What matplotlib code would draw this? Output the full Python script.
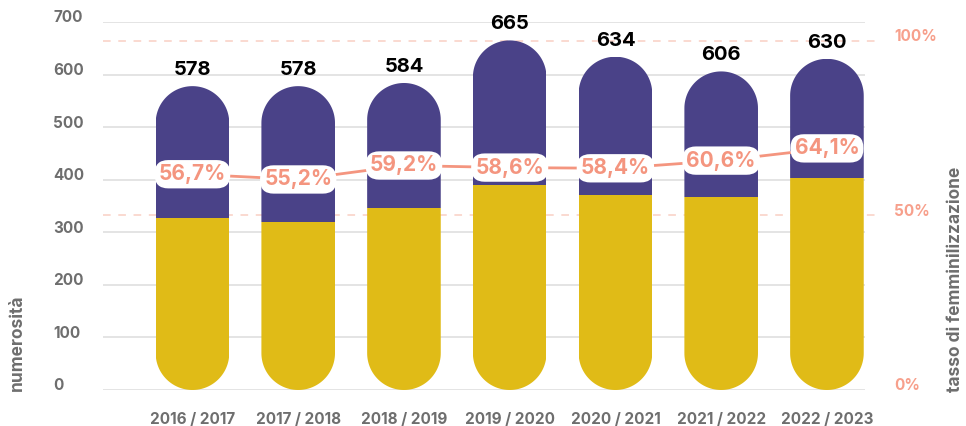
import matplotlib

matplotlib.use("Agg")
import matplotlib.pyplot as plt
import numpy as np
from matplotlib.patches import Polygon, Rectangle
from matplotlib.transforms import ScaledTranslation

# ──────────────────────────────────────────────
# DATA
# ──────────────────────────────────────────────
YEARS = ["2016 / 2017", "2017 / 2018", "2018 / 2019", "2019 / 2020",
         "2020 / 2021", "2021 / 2022", "2022 / 2023"]
TOTALS = [578, 578, 584, 665, 634, 606, 630]
WOMEN = [328, 319, 346, 390, 370, 367, 404]
FEM_RATE = [56.7, 55.2, 59.2, 58.6, 58.4, 60.6, 64.1]
LEFT_TICKS = [0, 100, 200, 300, 400, 500, 600, 700]
RIGHT_TICKS = [0, 50, 100]

# ──────────────────────────────────────────────
# STYLE
# ──────────────────────────────────────────────
PURPLE = "#4A4288"
YELLOW = "#E0BB17"
SALMON = "#F4957F"
SALMON_LIGHT = "#F9CFC4"
GREY_TXT = "#6E6E6E"
GRID = "#DCDCDC"
BAR_W = 0.696

plt.rcParams["font.family"] = ["Inter", "DejaVu Sans"]


def capsule(cx, w, top, ry, n=60):
    """Pill shape from 0 to top, with elliptic ends of radius w/2 (x) and ry (y)."""
    r = w / 2
    t = np.linspace(0, np.pi, n)
    top_pts = np.column_stack([cx + r * np.cos(t), (top - ry) + ry * np.sin(t)])
    bot_pts = np.column_stack([cx - r * np.cos(t), ry - ry * np.sin(t)])
    return np.vstack([top_pts, bot_pts])


fig = plt.figure(figsize=(9.66, 4.26), dpi=100)
ax = fig.add_axes([103 / 966, 36 / 426, 762 / 966, 368 / 426])
ax_r = ax.twinx()
ax_l = ax.twinx()

ax.set_zorder(ax_r.get_zorder() + 1)
ax.patch.set_visible(False)
ax_l.set_zorder(ax.get_zorder() + 1)

x = np.arange(len(YEARS))
ax.set_xlim(-0.846, 6.36)
ax.set_ylim(0, 700)

# y radius of the rounded ends so they look circular on screen
fig_w, fig_h = fig.get_size_inches() * fig.dpi
px_x = ax.get_position().width * fig_w / (6.36 + 0.846)
px_y = ax.get_position().height * fig_h / 700
ry = (BAR_W / 2) * px_x / px_y

# --- grid ---
for v in LEFT_TICKS:
    ax.axhline(v, color=GRID, lw=1.1, zorder=0)

# --- bars ---
for xi, tot, wom in zip(x, TOTALS, WOMEN):
    cap = Polygon(capsule(xi, BAR_W, tot, ry), closed=True,
                  facecolor="none", edgecolor="none")
    ax.add_patch(cap)
    r1 = Rectangle((xi - BAR_W / 2, 0), BAR_W, wom, facecolor=YELLOW,
                   edgecolor="none", zorder=2)
    r2 = Rectangle((xi - BAR_W / 2, wom), BAR_W, tot - wom, facecolor=PURPLE,
                   edgecolor="none", zorder=2)
    for r in (r1, r2):
        ax.add_patch(r)
        r.set_clip_path(cap)
    ax.annotate(str(tot), (xi, tot), xytext=(0, 5), textcoords="offset points",
                ha="center", va="bottom", fontsize=14.5, fontweight="bold",
                color="black", zorder=3)

# --- left axis ---
ax.set_yticks(LEFT_TICKS)
ax.set_xticks(x)
ax.set_xticklabels(YEARS)
ax.tick_params(axis="y", length=0, pad=36, labelsize=11, labelcolor=GREY_TXT)
ax.tick_params(axis="x", length=0, pad=16, labelsize=11, labelcolor=GREY_TXT)
for lab in ax.get_yticklabels():
    lab.set_horizontalalignment("left")
    lab.set_fontweight("bold")
    lab.set_transform(lab.get_transform() + ScaledTranslation(0, 4 / 72, fig.dpi_scale_trans))
for lab in ax.get_xticklabels():
    lab.set_fontweight("bold")
for s in ax.spines.values():
    s.set_visible(False)

# --- right axis (femminilizzazione scale) ---
ax_r.set_ylim(0, 105.4)
ax_r.set_yticks(RIGHT_TICKS)
ax_r.set_yticklabels([f"{v}%" for v in RIGHT_TICKS])
ax_r.tick_params(axis="y", length=0, pad=21, labelsize=11, labelcolor="#F7A08C")
for lab in ax_r.get_yticklabels():
    lab.set_fontweight("bold")
    lab.set_transform(lab.get_transform() + ScaledTranslation(0, 4 / 72, fig.dpi_scale_trans))
for v in RIGHT_TICKS[1:]:
    ax_r.axhline(v, xmin=0, xmax=1.02, color=SALMON_LIGHT, lw=1.1,
                 dashes=(5, 5), clip_on=False)
for s in ax_r.spines.values():
    s.set_visible(False)

# --- line with percentage labels ---
ax_l.set_ylim(-5.1, 100.3)
ax_l.axis("off")
ax_l.plot(x, FEM_RATE, color=SALMON, lw=2, zorder=3)
for xi, p in zip(x, FEM_RATE):
    ax_l.text(xi, p, f"{p:.1f}%".replace(".", ","), ha="center", va="center",
              fontsize=15, fontweight="bold", color=SALMON, zorder=4,
              bbox=dict(boxstyle="round,pad=0.2,rounding_size=0.65",
                        facecolor="white", edgecolor="none"))

# --- axis titles ---
fig.text(17 / 966, 35 / 426, "numerosità", rotation=90, ha="center", va="bottom",
         fontsize=12.5, fontweight="bold", color=GREY_TXT)
fig.text(956 / 966, 34 / 426, "tasso di femminilizzazione", rotation=90,
         ha="center", va="bottom", fontsize=12.5, fontweight="bold", color=GREY_TXT)

fig.savefig("out.png", dpi=100)
plt.close(fig)
